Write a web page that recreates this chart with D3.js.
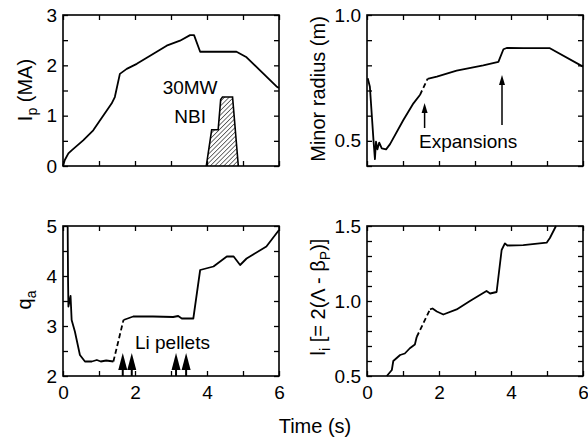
<!DOCTYPE html>
<html>
<head>
<meta charset="utf-8">
<script src="https://cdn.jsdelivr.net/npm/d3@7"></script>
<style>
body { margin: 0; background: #fff; }
text { font-family: "Liberation Sans", Arial, Helvetica, sans-serif; fill: #000; }
</style>
</head>
<body>
<script>
// time axis shared by all four panels
var timeTicks = [0, 2, 4, 6];

// plasma current Ip (MA)
var ipTime = [0, 0.05, 0.15, 0.24, 0.56, 0.84, 1.03, 1.35, 1.44, 1.58, 1.77, 2.05, 2.42, 2.88, 3.25, 3.53, 3.64, 3.81, 4.82, 5.10, 5.93, 6.0];
var ipVal  = [0, 0.12, 0.25, 0.31, 0.51, 0.71, 0.91, 1.24, 1.37, 1.83, 1.93, 2.03, 2.19, 2.39, 2.49, 2.60, 2.60, 2.27, 2.27, 2.16, 1.58, 1.55];
var ipYTicks = [0, 1, 2, 3];

// 30MW NBI pulse (drawn hatched in the Ip panel)
var nbiTime = [3.98, 4.13, 4.31, 4.38, 4.43, 4.71, 4.87];
var nbiVal  = [0, 0.72, 0.72, 1.32, 1.37, 1.37, 0];

// minor radius (m), solid / dashed / solid
var radTime1 = [0.02, 0.08, 0.18, 0.22, 0.25, 0.29, 0.34, 0.41, 0.53, 0.64, 1.01, 1.29, 1.47];
var radVal1  = [0.749, 0.715, 0.503, 0.427, 0.497, 0.466, 0.493, 0.47, 0.466, 0.487, 0.583, 0.649, 0.682];
var radTimeGap = [1.47, 1.68];
var radValGap  = [0.682, 0.746];
var radTime2 = [1.68, 1.94, 2.49, 3.23, 3.65, 3.79, 3.88, 4.34, 5.08, 6.0];
var radVal2  = [0.746, 0.755, 0.779, 0.80, 0.814, 0.864, 0.869, 0.868, 0.868, 0.795];
var radYTicks = [0.5, 1.0];
var expansionTime = [1.6, 3.75];
var expansionFrom = [0.551, 0.563];
var expansionTo   = [0.650, 0.762];

// edge safety factor qa
var qaTime1 = [0.13, 0.14, 0.15, 0.21, 0.24, 0.33, 0.47, 0.61, 0.80, 0.94, 1.05, 1.20, 1.40];
var qaVal1  = [4.99, 3.92, 3.39, 3.60, 3.12, 2.89, 2.42, 2.29, 2.29, 2.32, 2.29, 2.31, 2.29];
var qaTimeGap = [1.40, 1.68];
var qaValGap  = [2.29, 3.12];
var qaTime2 = [1.68, 1.95, 2.50, 3.06, 3.20, 3.30, 3.62, 3.81, 4.18, 4.55, 4.74, 4.92, 5.10, 5.65, 6.0];
var qaVal2  = [3.12, 3.19, 3.19, 3.18, 3.20, 3.15, 3.15, 4.12, 4.19, 4.39, 4.39, 4.22, 4.35, 4.59, 4.92];
var qaYTicks = [2, 3, 4, 5];
var pelletTime = [1.66, 1.91, 3.14, 3.42];

// internal inductance li
var liTime1 = [0.55, 0.69, 0.73, 0.92, 1.05, 1.19, 1.33, 1.38];
var liVal1  = [0.5, 0.54, 0.60, 0.64, 0.65, 0.685, 0.71, 0.76];
var liTimeGap = [1.38, 1.75];
var liValGap  = [0.76, 0.944];
var liTime2 = [1.75, 1.82, 1.94, 2.12, 2.49, 2.86, 3.32, 3.42, 3.60, 3.74, 3.83, 3.90, 4.34, 4.99, 5.08, 5.25];
var liVal2  = [0.944, 0.95, 0.93, 0.91, 0.944, 1.0, 1.067, 1.05, 1.06, 1.34, 1.384, 1.37, 1.373, 1.389, 1.42, 1.5];
var liYTicks = [0.5, 1.0, 1.5];

var w = 588;
var h = 443;

var svg = d3.select("body").append("svg")
  .attr("width", w)
  .attr("height", h);

var defs = svg.append("defs");
defs.append("pattern")
  .attr("id", "hatch")
  .attr("patternUnits", "userSpaceOnUse")
  .attr("width", 3.2)
  .attr("height", 3.2)
  .attr("patternTransform", "rotate(45)")
  .append("line")
  .attr("x1", 0).attr("y1", 0)
  .attr("x2", 0).attr("y2", 3.2)
  .attr("stroke", "#000")
  .attr("stroke-width", 1.1);

function zip(a, b) {
  return a.map(function(d, i) { return [d, b[i]]; });
}

// one framed panel with inward ticks on all four sides
function panel(left, top, right, bottom, yDomain, yStep, yLabels, yFmt, showTime) {
  var x = d3.scaleLinear().domain([0, 6]).range([left, right]);
  var y = d3.scaleLinear().domain(yDomain).range([bottom, top]);
  var n = Math.round((yDomain[1] - yDomain[0]) / yStep);
  var yt = d3.range(n + 1).map(function(i) { return +(yDomain[0] + i * yStep).toFixed(3); });
  var xt = d3.range(7);

  var g = svg.append("g");

  function style(a) {
    a.select(".domain").remove();
    a.selectAll("line").attr("stroke", "#000").attr("stroke-width", 1.3);
    a.selectAll("text").attr("font-size", 19).attr("font-family", null);
  }

  g.append("g")
    .attr("transform", "translate(" + left + ",0)")
    .call(d3.axisLeft(y).tickValues(yt).tickSizeInner(-5).tickSizeOuter(0).tickPadding(6)
      .tickFormat(function(d) {
        return yLabels.some(function(v) { return Math.abs(v - d) < 1e-6; }) ? d3.format(yFmt)(d) : "";
      }))
    .call(style);
  g.append("g")
    .attr("transform", "translate(" + right + ",0)")
    .call(d3.axisRight(y).tickValues(yt).tickSizeInner(-5).tickSizeOuter(0).tickFormat(""))
    .call(style);
  g.append("g")
    .attr("transform", "translate(0," + bottom + ")")
    .call(d3.axisBottom(x).tickValues(xt).tickSizeInner(-5).tickSizeOuter(0).tickPadding(10)
      .tickFormat(function(d) { return showTime && timeTicks.indexOf(d) >= 0 ? d : ""; }))
    .call(style);
  g.append("g")
    .attr("transform", "translate(0," + top + ")")
    .call(d3.axisTop(x).tickValues(xt).tickSizeInner(-5).tickSizeOuter(0).tickFormat(""))
    .call(style);

  g.append("rect")
    .attr("x", left).attr("y", top)
    .attr("width", right - left).attr("height", bottom - top)
    .attr("fill", "none")
    .attr("stroke", "#000")
    .attr("stroke-width", 1.6);

  return { x: x, y: y, g: g };
}

function curve(p, t, v, dashed) {
  var line = d3.line()
    .x(function(d) { return p.x(d[0]); })
    .y(function(d) { return p.y(d[1]); });
  p.g.append("path")
    .datum(zip(t, v))
    .attr("d", line)
    .attr("fill", "none")
    .attr("stroke", "#000")
    .attr("stroke-width", 1.8)
    .attr("stroke-linejoin", "round")
    .attr("stroke-dasharray", dashed ? "5,3" : null);
}

function label(p, t, v, txt) {
  p.g.append("text")
    .attr("x", p.x(t))
    .attr("y", p.y(v))
    .attr("text-anchor", "middle")
    .attr("font-size", 19)
    .text(txt);
}

// rotated y title built from [text, isSubscript] pieces
function yTitle(cx, cy, parts) {
  var t = svg.append("text")
    .attr("transform", "translate(" + cx + "," + cy + ") rotate(-90)")
    .attr("text-anchor", "middle")
    .attr("font-size", 20);
  var low = false;
  parts.forEach(function(pt) {
    var s = t.append("tspan").text(pt[0]);
    if (pt[1] && !low) { s.attr("dy", 5).attr("font-size", 14); low = true; }
    else if (pt[1]) { s.attr("font-size", 14); }
    else if (low) { s.attr("dy", -5); low = false; }
  });
}

// ---- Ip panel
var p1 = panel(63, 15, 279, 166, [0, 3], 0.5, ipYTicks, "d", false);
p1.g.append("path")
  .datum(zip(nbiTime, nbiVal))
  .attr("d", d3.line().x(function(d) { return p1.x(d[0]); }).y(function(d) { return p1.y(d[1]); }))
  .attr("fill", "url(#hatch)")
  .attr("stroke", "#000")
  .attr("stroke-width", 1.6);
curve(p1, ipTime, ipVal, false);
label(p1, 3.53, 1.43, "30MW");
label(p1, 3.53, 0.85, "NBI");
yTitle(32, 90, [["I", false], ["p", true], [" (MA)", false]]);

// ---- minor radius panel
var p2 = panel(367, 15, 583, 166, [0.4, 1.0], 0.1, radYTicks, ".1f", false);
curve(p2, radTime1, radVal1, false);
curve(p2, radTimeGap, radValGap, true);
curve(p2, radTime2, radVal2, false);
expansionTime.forEach(function(t, i) {
  var xx = p2.x(t), y0 = p2.y(expansionFrom[i]), y1 = p2.y(expansionTo[i]);
  p2.g.append("line")
    .attr("x1", xx).attr("x2", xx)
    .attr("y1", y0).attr("y2", y1 + 6)
    .attr("stroke", "#000").attr("stroke-width", 1.5);
  p2.g.append("path")
    .attr("d", "M" + xx + "," + y1 + "L" + (xx - 3) + "," + (y1 + 10) + "L" + (xx + 3) + "," + (y1 + 10) + "Z")
    .attr("fill", "#000");
});
label(p2, 2.81, 0.472, "Expansions");
yTitle(325, 89, [["Minor radius (m)", false]]);

// ---- qa panel
var p3 = panel(63, 226, 279, 376, [2, 5], 0.5, qaYTicks, "d", true);
curve(p3, qaTime1, qaVal1, false);
curve(p3, qaTimeGap, qaValGap, true);
curve(p3, qaTime2, qaVal2, false);
pelletTime.forEach(function(t) {
  var xx = p3.x(t), yb = p3.y(2), yt = p3.y(2.46), yh = p3.y(2.12);
  p3.g.append("line")
    .attr("x1", xx).attr("x2", xx)
    .attr("y1", yb).attr("y2", yh)
    .attr("stroke", "#000").attr("stroke-width", 2);
  p3.g.append("path")
    .attr("d", "M" + xx + "," + yt + "L" + (xx - 4.5) + "," + yh + "L" + (xx + 4.5) + "," + yh + "Z")
    .attr("fill", "#000");
});
label(p3, 3.04, 2.54, "Li pellets");
yTitle(31, 300, [["q", false], ["a", true]]);

// ---- li panel
var p4 = panel(367, 226, 583, 376, [0.5, 1.5], 0.1, liYTicks, ".1f", true);
curve(p4, liTime1, liVal1, false);
curve(p4, liTimeGap, liValGap, true);
curve(p4, liTime2, liVal2, false);
yTitle(325, 297, [["l", false], ["i", true], [" [= 2(\u039b - \u03b2", false], ["P", true], [")]", false]]);

// shared x title
svg.append("text")
  .attr("x", 315)
  .attr("y", 433)
  .attr("text-anchor", "middle")
  .attr("font-size", 20)
  .text("Time (s)");
</script>
</body>
</html>
